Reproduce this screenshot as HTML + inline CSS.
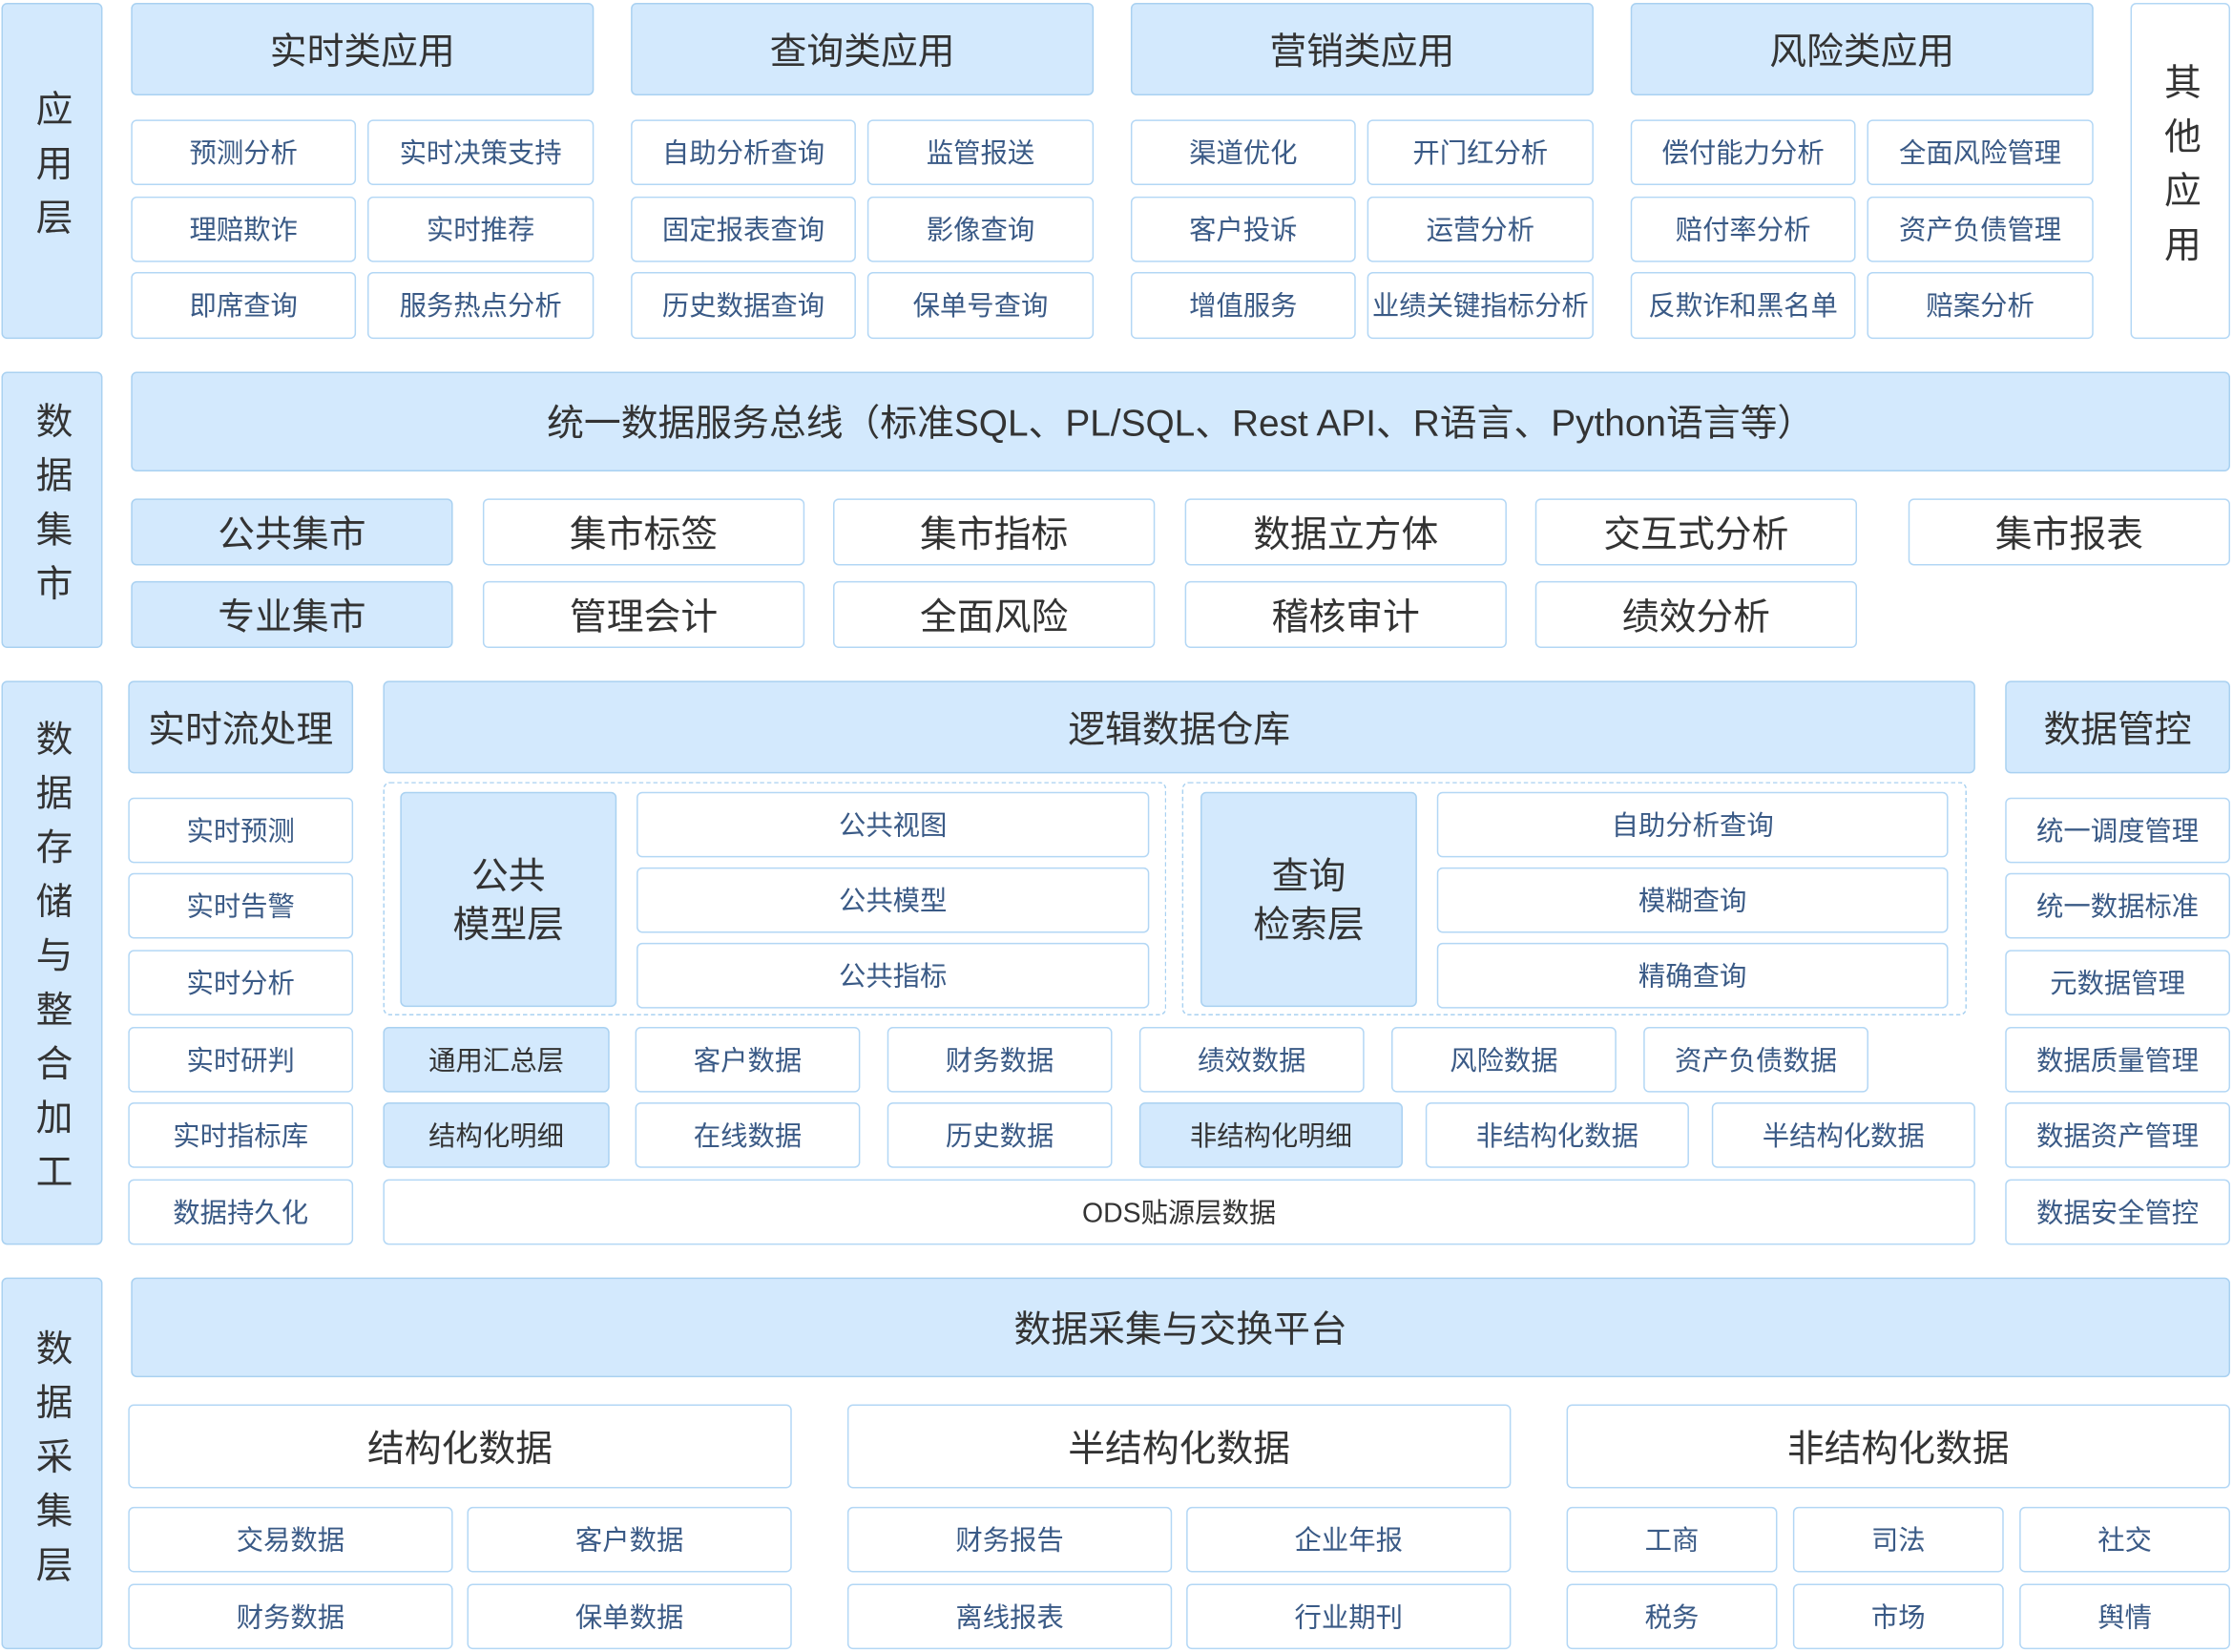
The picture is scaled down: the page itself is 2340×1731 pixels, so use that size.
<!DOCTYPE html>
<html><head><meta charset="utf-8">
<style>
html,body{margin:0;padding:0;background:#fff;}
body{width:2340px;height:1730px;overflow:hidden;position:relative;}
#s{position:absolute;left:0;top:0;width:1568px;height:1160px;transform:scale(1.49235);transform-origin:0 0;font-family:"Liberation Sans","Noto Sans CJK SC",sans-serif;}
.b{position:absolute;display:flex;align-items:center;justify-content:center;text-align:center;box-sizing:border-box;border:1.5px solid #b3d7f5;border-radius:4px;background:#fff;color:#3a5a86;font-size:19px;white-space:nowrap;line-height:1.25;padding-top:3px;}
.l{background:#d3e9fd;border-color:#a9d1f1;color:#333;}
.h{font-size:26px;color:#333;}
.m{font-size:19px;color:#333;}
.v{font-size:26px;color:#333;writing-mode:vertical-rl;letter-spacing:12px;padding-top:0;}
.d{position:absolute;border:1.5px dashed #a9d1f1;border-radius:5px;box-sizing:border-box;}
</style></head><body><div id="s">
<div class="b l v" style="left:1px;top:2px;width:71px;height:236px">应用层</div>
<div class="b l v" style="left:1px;top:261px;width:71px;height:194px">数据集市</div>
<div class="b l v" style="left:1px;top:478px;width:71px;height:396px">数据存储与整合加工</div>
<div class="b l v" style="left:1px;top:897px;width:71px;height:261px">数据采集层</div>

<div class="b l h" style="left:92px;top:2px;width:325px;height:65px">实时类应用</div>
<div class="b l h" style="left:443px;top:2px;width:325px;height:65px">查询类应用</div>
<div class="b l h" style="left:794px;top:2px;width:325px;height:65px">营销类应用</div>
<div class="b l h" style="left:1145px;top:2px;width:325px;height:65px">风险类应用</div>
<div class="b v" style="left:1496px;top:2px;width:70px;height:236px">其他应用</div>

<div class="b" style="left:92px;top:84px;width:158px;height:46px">预测分析</div>
<div class="b" style="left:258px;top:84px;width:159px;height:46px">实时决策支持</div>
<div class="b" style="left:92px;top:138px;width:158px;height:46px">理赔欺诈</div>
<div class="b" style="left:258px;top:138px;width:159px;height:46px">实时推荐</div>
<div class="b" style="left:92px;top:191px;width:158px;height:47px">即席查询</div>
<div class="b" style="left:258px;top:191px;width:159px;height:47px">服务热点分析</div>

<div class="b" style="left:443px;top:84px;width:158px;height:46px">自助分析查询</div>
<div class="b" style="left:609px;top:84px;width:159px;height:46px">监管报送</div>
<div class="b" style="left:443px;top:138px;width:158px;height:46px">固定报表查询</div>
<div class="b" style="left:609px;top:138px;width:159px;height:46px">影像查询</div>
<div class="b" style="left:443px;top:191px;width:158px;height:47px">历史数据查询</div>
<div class="b" style="left:609px;top:191px;width:159px;height:47px">保单号查询</div>

<div class="b" style="left:794px;top:84px;width:158px;height:46px">渠道优化</div>
<div class="b" style="left:960px;top:84px;width:159px;height:46px">开门红分析</div>
<div class="b" style="left:794px;top:138px;width:158px;height:46px">客户投诉</div>
<div class="b" style="left:960px;top:138px;width:159px;height:46px">运营分析</div>
<div class="b" style="left:794px;top:191px;width:158px;height:47px">增值服务</div>
<div class="b" style="left:960px;top:191px;width:159px;height:47px">业绩关键指标分析</div>

<div class="b" style="left:1145px;top:84px;width:158px;height:46px">偿付能力分析</div>
<div class="b" style="left:1311px;top:84px;width:159px;height:46px">全面风险管理</div>
<div class="b" style="left:1145px;top:138px;width:158px;height:46px">赔付率分析</div>
<div class="b" style="left:1311px;top:138px;width:159px;height:46px">资产负债管理</div>
<div class="b" style="left:1145px;top:191px;width:158px;height:47px">反欺诈和黑名单</div>
<div class="b" style="left:1311px;top:191px;width:159px;height:47px">赔案分析</div>

<div class="b l h" style="left:92px;top:261px;width:1474px;height:70px">统一数据服务总线（标准SQL、PL/SQL、Rest API、R语言、Python语言等）</div>
<div class="b l h" style="left:92px;top:350px;width:226px;height:47px">公共集市</div>
<div class="b h" style="left:339px;top:350px;width:226px;height:47px">集市标签</div>
<div class="b h" style="left:585px;top:350px;width:226px;height:47px">集市指标</div>
<div class="b h" style="left:832px;top:350px;width:226px;height:47px">数据立方体</div>
<div class="b h" style="left:1078px;top:350px;width:226px;height:47px">交互式分析</div>
<div class="b h" style="left:1340px;top:350px;width:226px;height:47px">集市报表</div>
<div class="b l h" style="left:92px;top:408px;width:226px;height:47px">专业集市</div>
<div class="b h" style="left:339px;top:408px;width:226px;height:47px">管理会计</div>
<div class="b h" style="left:585px;top:408px;width:226px;height:47px">全面风险</div>
<div class="b h" style="left:832px;top:408px;width:226px;height:47px">稽核审计</div>
<div class="b h" style="left:1078px;top:408px;width:226px;height:47px">绩效分析</div>

<div class="b l h" style="left:90px;top:478px;width:158px;height:65px">实时流处理</div>
<div class="b l h" style="left:269px;top:478px;width:1118px;height:65px">逻辑数据仓库</div>
<div class="b l h" style="left:1408px;top:478px;width:158px;height:65px">数据管控</div>

<div class="b" style="left:90px;top:560px;width:158px;height:46px">实时预测</div>
<div class="b" style="left:90px;top:613px;width:158px;height:46px">实时告警</div>
<div class="b" style="left:90px;top:667px;width:158px;height:46px">实时分析</div>
<div class="b" style="left:90px;top:721px;width:158px;height:46px">实时研判</div>
<div class="b" style="left:90px;top:774px;width:158px;height:46px">实时指标库</div>
<div class="b" style="left:90px;top:828px;width:158px;height:46px">数据持久化</div>

<div class="b" style="left:1408px;top:560px;width:158px;height:46px">统一调度管理</div>
<div class="b" style="left:1408px;top:613px;width:158px;height:46px">统一数据标准</div>
<div class="b" style="left:1408px;top:667px;width:158px;height:46px">元数据管理</div>
<div class="b" style="left:1408px;top:721px;width:158px;height:46px">数据质量管理</div>
<div class="b" style="left:1408px;top:774px;width:158px;height:46px">数据资产管理</div>
<div class="b" style="left:1408px;top:828px;width:158px;height:46px">数据安全管控</div>

<div class="d" style="left:269px;top:549px;width:550px;height:164px"></div>
<div class="d" style="left:830px;top:549px;width:551px;height:164px"></div>
<div class="b l h" style="left:281px;top:556px;width:152px;height:151px;line-height:1.3">公共<br>模型层</div>
<div class="b" style="left:447px;top:556px;width:360px;height:46px">公共视图</div>
<div class="b" style="left:447px;top:609px;width:360px;height:46px">公共模型</div>
<div class="b" style="left:447px;top:662px;width:360px;height:46px">公共指标</div>
<div class="b l h" style="left:843px;top:556px;width:152px;height:151px;line-height:1.3">查询<br>检索层</div>
<div class="b" style="left:1009px;top:556px;width:359px;height:46px">自助分析查询</div>
<div class="b" style="left:1009px;top:609px;width:359px;height:46px">模糊查询</div>
<div class="b" style="left:1009px;top:662px;width:359px;height:46px">精确查询</div>

<div class="b l m" style="left:269px;top:721px;width:159px;height:46px">通用汇总层</div>
<div class="b" style="left:446px;top:721px;width:158px;height:46px">客户数据</div>
<div class="b" style="left:623px;top:721px;width:158px;height:46px">财务数据</div>
<div class="b" style="left:800px;top:721px;width:158px;height:46px">绩效数据</div>
<div class="b" style="left:977px;top:721px;width:158px;height:46px">风险数据</div>
<div class="b" style="left:1154px;top:721px;width:158px;height:46px">资产负债数据</div>

<div class="b l m" style="left:269px;top:774px;width:159px;height:46px">结构化明细</div>
<div class="b" style="left:446px;top:774px;width:158px;height:46px">在线数据</div>
<div class="b" style="left:623px;top:774px;width:158px;height:46px">历史数据</div>
<div class="b l m" style="left:800px;top:774px;width:185px;height:46px">非结构化明细</div>
<div class="b" style="left:1001px;top:774px;width:185px;height:46px">非结构化数据</div>
<div class="b" style="left:1202px;top:774px;width:185px;height:46px">半结构化数据</div>
<div class="b m" style="left:269px;top:828px;width:1118px;height:46px">ODS贴源层数据</div>

<div class="b l h" style="left:92px;top:897px;width:1474px;height:70px">数据采集与交换平台</div>
<div class="b h" style="left:90px;top:986px;width:466px;height:59px">结构化数据</div>
<div class="b h" style="left:595px;top:986px;width:466px;height:59px">半结构化数据</div>
<div class="b h" style="left:1100px;top:986px;width:466px;height:59px">非结构化数据</div>

<div class="b" style="left:90px;top:1058px;width:228px;height:46px">交易数据</div>
<div class="b" style="left:328px;top:1058px;width:228px;height:46px">客户数据</div>
<div class="b" style="left:90px;top:1112px;width:228px;height:46px">财务数据</div>
<div class="b" style="left:328px;top:1112px;width:228px;height:46px">保单数据</div>

<div class="b" style="left:595px;top:1058px;width:228px;height:46px">财务报告</div>
<div class="b" style="left:833px;top:1058px;width:228px;height:46px">企业年报</div>
<div class="b" style="left:595px;top:1112px;width:228px;height:46px">离线报表</div>
<div class="b" style="left:833px;top:1112px;width:228px;height:46px">行业期刊</div>

<div class="b" style="left:1100px;top:1058px;width:148px;height:46px">工商</div>
<div class="b" style="left:1259px;top:1058px;width:148px;height:46px">司法</div>
<div class="b" style="left:1418px;top:1058px;width:148px;height:46px">社交</div>
<div class="b" style="left:1100px;top:1112px;width:148px;height:46px">税务</div>
<div class="b" style="left:1259px;top:1112px;width:148px;height:46px">市场</div>
<div class="b" style="left:1418px;top:1112px;width:148px;height:46px">舆情</div>
</div></body></html>
